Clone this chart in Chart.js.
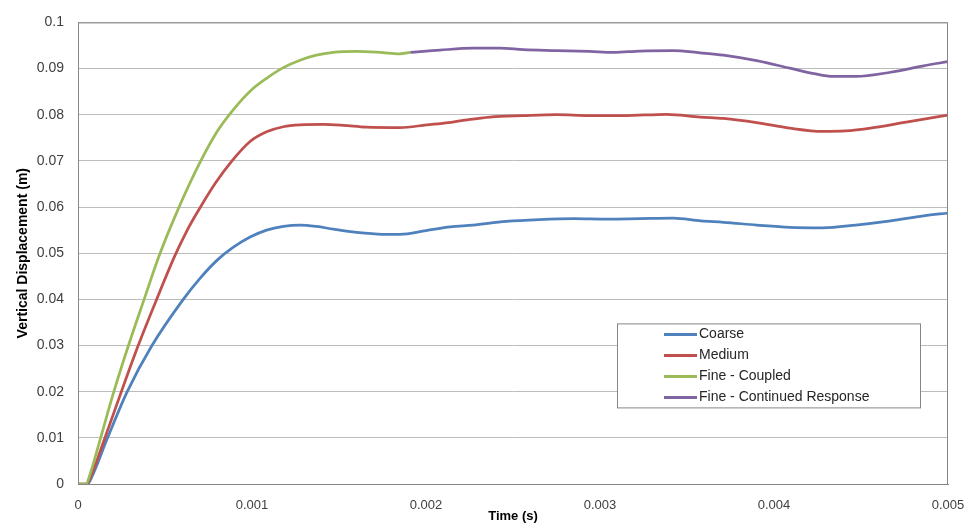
<!DOCTYPE html>
<html>
<head>
<meta charset="utf-8">
<title>Vertical Displacement vs Time</title>
<script src="https://cdn.jsdelivr.net/npm/chart.js@4/dist/chart.umd.min.js"></script>
<style>
  html, body { margin: 0; padding: 0; background: #ffffff; }
  #wrap { width: 979px; height: 527px; }
</style>
</head>
<body>
<div id="wrap"><canvas id="chart" width="979" height="527"></canvas></div>
<script>
// Axis tick labels
const xTickLabels = ['0', '0.001', '0.002', '0.003', '0.004', '0.005'];
const yTickLabels = ['0', '0.01', '0.02', '0.03', '0.04', '0.05', '0.06', '0.07', '0.08', '0.09', '0.1'];

// Coarse mesh
const coarseTime = [0, 0.000055, 0.00008, 0.00017, 0.000283, 0.000425, 0.000605, 0.0007, 0.0008, 0.000893,
  0.000989, 0.001084, 0.00118, 0.001276, 0.00137, 0.001467, 0.0016, 0.00175, 0.00185, 0.002, 0.00214,
  0.00227, 0.00246, 0.00265, 0.00285, 0.00304, 0.00323, 0.00342, 0.00358, 0.00371, 0.0039, 0.00409,
  0.00428, 0.00447, 0.00467, 0.00486, 0.005];
const coarseDisp = [0, 0, 0.0016, 0.01, 0.02, 0.03, 0.04, 0.0445, 0.0485, 0.0513,
  0.0535, 0.0550, 0.0558, 0.0561, 0.0558, 0.0552, 0.0545, 0.0541, 0.0541, 0.0549, 0.0557,
  0.0561, 0.0569, 0.0573, 0.0575, 0.0574, 0.0575, 0.0576, 0.0570, 0.0567, 0.0561, 0.0556,
  0.0555, 0.0561, 0.0570, 0.0581, 0.0587];

// Medium mesh
const mediumTime = [0, 0.00005, 0.000075, 0.000155, 0.000249, 0.000346, 0.000452, 0.000555, 0.000625, 0.000699,
  0.00079, 0.000885, 0.000989, 0.001084, 0.00118, 0.001276, 0.00141, 0.001525, 0.001657, 0.00185, 0.002004,
  0.00213, 0.002234, 0.002368, 0.00256, 0.00275, 0.00294, 0.003134, 0.003383, 0.003575, 0.003709, 0.0039,
  0.00409, 0.00428, 0.00441, 0.00457, 0.00476, 0.005];
const mediumDisp = [0, 0, 0.0018, 0.01, 0.02, 0.03, 0.04, 0.0493, 0.0548, 0.0597,
  0.0652, 0.0700, 0.0742, 0.0763, 0.0774, 0.0778, 0.0779, 0.0777, 0.0773, 0.0772, 0.0778,
  0.0783, 0.0789, 0.0795, 0.0798, 0.0800, 0.0798, 0.0798, 0.0801, 0.0795, 0.0792, 0.0783,
  0.0771, 0.0764, 0.0765, 0.0772, 0.0784, 0.0799];

// Fine mesh, coupled run
const fineTime = [0, 0.000046, 0.00007, 0.00013, 0.000206, 0.00029, 0.00038, 0.000469, 0.000575, 0.000699,
  0.000797, 0.000893, 0.000989, 0.001084, 0.00118, 0.001276, 0.00137, 0.001467, 0.0016, 0.001734,
  0.00185, 0.00191];
const fineDisp = [0, 0, 0.0022, 0.01, 0.02, 0.03, 0.04, 0.0497, 0.0595, 0.0695,
  0.0762, 0.0811, 0.0851, 0.0879, 0.0902, 0.0918, 0.0929, 0.0935, 0.0937, 0.0935,
  0.0932, 0.0935];

// Fine mesh, continued response
const contTime = [0.00191, 0.00208, 0.002272, 0.002425, 0.00256, 0.00275, 0.00294, 0.003077, 0.00323, 0.00342,
  0.003575, 0.003709, 0.0039, 0.00409, 0.00423, 0.00434, 0.00447, 0.00467, 0.00486, 0.005];
const contDisp = [0.0935, 0.0940, 0.0944, 0.0944, 0.0941, 0.0939, 0.0937, 0.0935, 0.0938, 0.0939,
  0.0934, 0.0929, 0.0917, 0.0901, 0.0889, 0.0883, 0.0883, 0.0892, 0.0906, 0.0915];

const seriesNames = ['Coarse', 'Medium', 'Fine - Coupled', 'Fine - Continued Response'];
const seriesColors = ['#4F81BD', '#C0504D', '#9BBB59', '#8064A2'];

function toPoints(ts, vs) {
  return ts.map((t, i) => ({ x: t, y: vs[i] }));
}

const seriesData = [
  toPoints(coarseTime, coarseDisp),
  toPoints(mediumTime, mediumDisp),
  toPoints(fineTime, fineDisp),
  toPoints(contTime, contDisp)
];

const FONT = '"Liberation Sans", Arial, sans-serif';
Chart.defaults.font.family = FONT;

// Frame around the plot area plus a boxed legend placed inside it
const framePlugin = {
  id: 'frameAndLegend',
  afterDraw(chart) {
    const { ctx, chartArea: a } = chart;
    ctx.save();
    ctx.strokeStyle = '#868686';
    ctx.lineWidth = 1;
    ctx.strokeRect(a.left + 0.5, a.top + 0.5, a.right - a.left - 1, a.bottom - a.top);

    const bx = a.right - 331, by = a.top + 301, bw = 303, bh = 84;
    ctx.fillStyle = '#ffffff';
    ctx.fillRect(bx, by, bw, bh);
    ctx.strokeStyle = '#868686';
    ctx.strokeRect(bx + 0.5, by + 0.5, bw, bh);

    ctx.font = '14px ' + FONT;
    ctx.textBaseline = 'middle';
    ctx.textAlign = 'left';
    chart.data.datasets.forEach((ds, i) => {
      const y = by + 11 + i * 21;
      ctx.strokeStyle = ds.borderColor;
      ctx.lineWidth = 3;
      ctx.beginPath();
      ctx.moveTo(bx + 47, y);
      ctx.lineTo(bx + 80, y);
      ctx.stroke();
      ctx.fillStyle = '#262626';
      ctx.fillText(ds.label, bx + 82, y);
    });
    ctx.restore();
  }
};

new Chart(document.getElementById('chart'), {
  type: 'line',
  data: {
    datasets: seriesData.map((pts, i) => ({
      label: seriesNames[i],
      data: pts,
      borderColor: seriesColors[i],
      backgroundColor: seriesColors[i],
      borderWidth: 2.75,
      pointRadius: 0,
      fill: false,
      cubicInterpolationMode: 'monotone',
      order: 4 - i
    }))
  },
  options: {
    responsive: false,
    animation: false,
    layout: { padding: { top: 12, right: 31, bottom: 0, left: 0 } },
    plugins: {
      legend: { display: false },
      tooltip: { enabled: false }
    },
    scales: {
      x: {
        type: 'linear',
        min: 0,
        max: 0.005,
        afterFit(scale) { scale.height = 43; },
        afterBuildTicks(scale) {
          scale.ticks = xTickLabels.map(s => ({ value: parseFloat(s) }));
        },
        ticks: {
          callback: (v, i) => xTickLabels[i],
          font: { size: 13 },
          color: '#404040',
          padding: 14,
          maxRotation: 0,
          autoSkip: false
        },
        grid: { display: false, drawTicks: false },
        border: { display: true, color: '#868686', width: 1 },
        title: {
          display: true,
          text: 'Time (s)',
          font: { size: 13, weight: 'bold' },
          color: '#000000',
          padding: { top: 0, bottom: 3 }
        }
      },
      y: {
        min: 0,
        max: 0.1,
        afterFit(scale) { scale.width = 78; },
        afterBuildTicks(scale) {
          scale.ticks = yTickLabels.map(s => ({ value: parseFloat(s) }));
        },
        ticks: {
          callback: (v, i) => yTickLabels[i],
          font: { size: 14 },
          color: '#404040',
          padding: 14,
          autoSkip: false
        },
        grid: { color: '#bcbcbc', lineWidth: 1, drawTicks: false },
        border: { display: true, color: '#868686', width: 1 },
        title: {
          display: true,
          text: 'Vertical Displacement (m)',
          font: { size: 14, weight: 'bold' },
          color: '#000000',
          padding: { top: 15, bottom: 0 }
        }
      }
    }
  },
  plugins: [framePlugin]
});
</script>
</body>
</html>
